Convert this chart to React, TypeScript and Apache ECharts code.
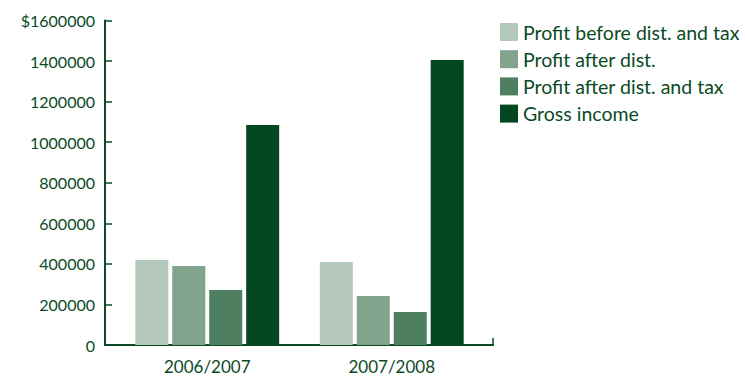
import React, { useEffect, useRef } from "react";
import * as echarts from "echarts";

const categories = ["2006/2007", "2007/2008"];
const seriesNames = [
  "Profit before dist. and tax",
  "Profit after dist.",
  "Profit after dist. and tax",
  "Gross income",
];
const profitBefore = [419000, 409000];
const profitAfterDist = [390000, 242000];
const profitAfterTax = [271000, 163000];
const grossIncome = [1085000, 1405000];
const colors = ["#b4c8bb", "#82a38c", "#4e7f60", "#02471f"];
const textColor = "#0a4a24";
const font = "Lato, 'Open Sans', sans-serif";

export default function App() {
  const ref = useRef<HTMLDivElement>(null);
  useEffect(() => {
    if (!ref.current) return;
    const chart = echarts.init(ref.current, undefined, { renderer: "svg" });
    const values = [profitBefore, profitAfterDist, profitAfterTax, grossIncome];
    chart.setOption({
      animation: false,
      textStyle: { fontFamily: font, color: textColor },
      legend: {
        orient: "vertical",
        left: 500,
        top: 22,
        padding: 0,
        itemWidth: 18,
        itemHeight: 18,
        itemGap: 7.2,
        icon: "rect",
        textStyle: { fontSize: 19.5, color: textColor, fontFamily: font },
        data: seriesNames,
      },
      grid: { left: 115, right: 261, top: 20.5, bottom: 34, containLabel: false },
      xAxis: {
        type: "category",
        data: categories,
        axisLine: { show: false },
        axisTick: { show: false },
        axisLabel: { fontSize: 17, color: textColor, fontFamily: font, margin: 13 },
      },
      yAxis: {
        type: "value",
        min: 0,
        max: 1600000,
        interval: 200000,
        offset: 10,
        splitLine: { show: false },
        axisLine: { show: true, lineStyle: { color: textColor, width: 2 } },
        axisTick: { show: true, inside: true, length: 7, lineStyle: { color: textColor, width: 1.5 } },
        axisLabel: {
          fontSize: 16,
          color: textColor,
          fontFamily: font,
          margin: 10,
          formatter: (v: number) => (v === 1600000 ? "$" + v : String(v)),
        },
      },
      graphic: [
        {
          type: "line",
          shape: { x1: 104, y1: 345, x2: 494, y2: 345 },
          style: { stroke: textColor, lineWidth: 2 },
        },
        {
          type: "line",
          shape: { x1: 493, y1: 338, x2: 493, y2: 345 },
          style: { stroke: textColor, lineWidth: 1.5 },
        },
      ],
      series: seriesNames.map((name, i) => ({
        name,
        type: "bar",
        data: values[i],
        barWidth: 33,
        barGap: "12%",
        itemStyle: { color: colors[i] },
      })),
    });
    return () => chart.dispose();
  }, []);
  return <div ref={ref} style={{ width: 745, height: 379, position: "absolute", left: 0, top: 0 }} />;
}
